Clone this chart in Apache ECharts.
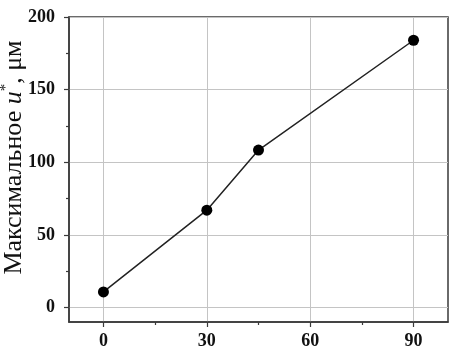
<!DOCTYPE html>
<html><head><meta charset="utf-8">
<script src="https://cdn.jsdelivr.net/npm/echarts@6/dist/echarts.min.js"></script>
<style>html,body{margin:0;padding:0;background:#fff}#c{width:457px;height:354px}</style>
</head><body><div id="c"></div>
<script>
const xValues = [0, 30, 45, 90];
const yValues = [10.7, 67, 108.4, 184];
const xTicks = [0, 30, 60, 90];
const xMinor = [15, 45, 75];
const yTicks = [0, 50, 100, 150, 200];
const yMinor = [25, 75, 125, 175];

const chart = echarts.init(document.getElementById('c'));
const axisCol = '#3a3a3a';
const serif = '"Times New Roman", "Liberation Serif", Times, serif';
const labelFont = {fontFamily: serif, fontWeight: 'bold', fontSize: 18, color: '#111'};
chart.setOption({
  animation: false,
  grid: {left: 69, right: 9, top: 17, bottom: 32, outerBoundsMode: 'none', containLabel: false, show: true, borderColor: axisCol, borderWidth: 1.5, backgroundColor: 'transparent'},
  xAxis: [{
    type: 'value', min: -10, max: 100,
    axisLine: {show: true, onZero: false, lineStyle: {color: axisCol, width: 1.5}},
    axisTick: {show: true, customValues: xTicks, length: 5, lineStyle: {color: axisCol, width: 1.2}},
    axisLabel: Object.assign({customValues: xTicks, margin: 10}, labelFont),
    splitLine: {show: true, lineStyle: {color: '#c4c4c4', width: 1}}
  }, {
    type: 'value', min: -10, max: 100, position: 'bottom',
    axisLine: {show: false, onZero: false},
    axisTick: {show: true, customValues: xMinor, length: 3, lineStyle: {color: axisCol, width: 1.2}},
    axisLabel: {show: false},
    splitLine: {show: false}
  }],
  yAxis: [{
    type: 'value', min: -10, max: 200,
    name: '{n|Максимальное }{u|u}{s|*}{n|, μм}',
    nameLocation: 'middle', nameGap: 39, nameRotate: 90, nameMoveOverlap: false,
    nameTextStyle: {
      padding: [0, 0, 0, 24],
      rich: {
        n: {fontFamily: serif, fontSize: 26, color: '#111'},
        u: {fontFamily: serif, fontSize: 26, fontStyle: 'italic', color: '#111'},
        s: {fontFamily: serif, fontSize: 15, color: '#111', verticalAlign: 'top', padding: [0, 0, 16, 0]}
      }
    },
    axisLine: {show: true, onZero: false, lineStyle: {color: axisCol, width: 1.5}},
    axisTick: {show: true, customValues: yTicks, length: 5, lineStyle: {color: axisCol, width: 1.2}},
    axisLabel: Object.assign({customValues: yTicks, margin: 14}, labelFont),
    splitLine: {show: true, lineStyle: {color: '#c4c4c4', width: 1}}
  }, {
    type: 'value', min: -10, max: 200, position: 'left',
    axisLine: {show: false, onZero: false},
    axisTick: {show: true, customValues: yMinor, length: 3, lineStyle: {color: axisCol, width: 1.2}},
    axisLabel: {show: false},
    splitLine: {show: false}
  }],
  series: [{
    type: 'line',
    data: xValues.map((x, i) => [x, yValues[i]]),
    symbol: 'circle', symbolSize: 11,
    itemStyle: {color: '#000'},
    lineStyle: {color: '#222', width: 1.5}
  }]
});
</script></body></html>
